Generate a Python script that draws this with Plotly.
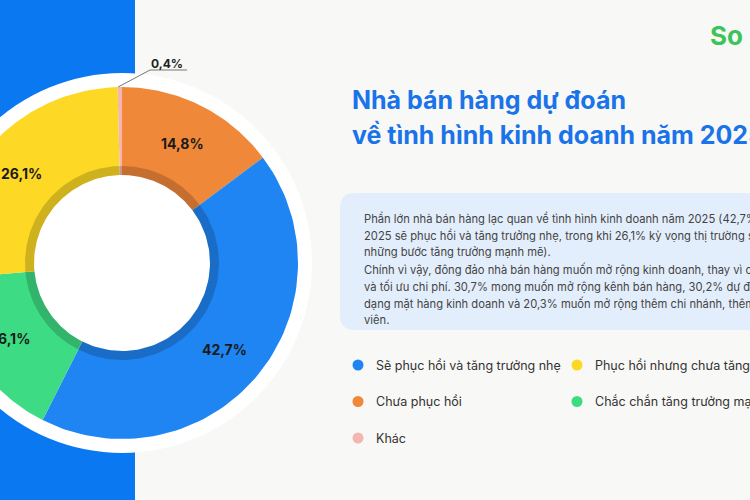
import numpy as np
import plotly.graph_objects as go

# dữ liệu (theo chiều kim đồng hồ từ đỉnh)
labels = ["Chưa phục hồi", "Sẽ phục hồi và tăng trưởng nhẹ", "Chắc chắn tăng trưởng mạnh mẽ",
          "Phục hồi nhưng chưa tăng trưởng", "Khác"]
values = [14.8, 42.7, 16.1, 26.1, 0.4]
value_text = ["14,8%", "42,7%", "16,1%", "26,1%", "0,4%"]
colors = ["#f0883a", "#1f85f2", "#3ddc84", "#fdd824", "#f5b5b0"]

legend_order = [1, 3, 0, 2, 4]

title_lines = ["Nhà bán hàng dự đoán", "về tình hình kinh doanh năm 2025"]
body_lines = [
    "Phần lớn nhà bán hàng lạc quan về tình hình kinh doanh năm 2025 (42,7% tin rằng",
    "2025 sẽ phục hồi và tăng trưởng nhẹ, trong khi 26,1% kỳ vọng thị trường sẽ có",
    "những bước tăng trưởng mạnh mẽ).",
    "Chính vì vậy, đông đảo nhà bán hàng muốn mở rộng kinh doanh, thay vì cắt giảm",
    "và tối ưu chi phí. 30,7% mong muốn mở rộng kênh bán hàng, 30,2% dự định đa",
    "dạng mặt hàng kinh doanh và 20,3% muốn mở rộng thêm chi nhánh, thêm nhân",
    "viên.",
]

cx, cy, r_out, r_in, r_band = 122, 263, 176, 88, 97
FONT = "Inter"

fig = go.Figure()

def arc(t0, t1, ra, rb):
    t = np.linspace(t0, t1, 80)
    xs = np.concatenate([cx + ra * np.sin(t), cx + rb * np.sin(t[::-1])])
    ys = np.concatenate([cy - ra * np.cos(t), cy - rb * np.cos(t[::-1])])
    return np.append(xs, xs[0]), np.append(ys, ys[0])

ends = np.cumsum(values) / sum(values) * 2 * np.pi
starts = ends - np.array(values) / sum(values) * 2 * np.pi
for i, v in enumerate(values):
    xs, ys = arc(starts[i], ends[i], r_out, r_in)
    fig.add_trace(go.Scatter(x=xs, y=ys, fill="toself", fillcolor=colors[i], mode="lines",
                             line=dict(width=0), hoverinfo="skip"))
    xs, ys = arc(starts[i], ends[i], r_band, r_in)
    fig.add_trace(go.Scatter(x=xs, y=ys, fill="toself", fillcolor="rgba(0,0,0,0.18)", mode="lines",
                             line=dict(width=0), hoverinfo="skip"))

anns = []
for i, v in enumerate(values):
    mid = (starts[i] + ends[i]) / 2
    if v < 2:
        anns.append(dict(x=185, y=63, text="<b>" + value_text[i] + "</b>", showarrow=False,
                         xanchor="right", font=dict(size=12, color="#222", family=FONT)))
        continue
    rl = 134
    anns.append(dict(x=cx + rl * np.sin(mid), y=cy - rl * np.cos(mid), text="<b>" + value_text[i] + "</b>",
                     showarrow=False, font=dict(size=14, color="#1a1a1a", family=FONT)))

fig.add_trace(go.Scatter(x=[cx + r_out * np.sin(ends[3] + 0.003), 150, 187], y=[87, 70, 70], mode="lines",
                         line=dict(color="#777", width=1), hoverinfo="skip"))

for k, i in enumerate(legend_order):
    lx = 358 if k % 2 == 0 else 577
    ly = 365 + (k // 2) * 36.5
    fig.add_trace(go.Scatter(x=[lx], y=[ly], mode="markers", marker=dict(size=11, color=colors[i]),
                             hoverinfo="skip"))
    anns.append(dict(x=lx + 16, y=ly, text=labels[i], showarrow=False, xanchor="left",
                     font=dict(size=12.5, color="#333", family=FONT)))

for j, t in enumerate(title_lines):
    anns.append(dict(x=350, y=100 + j * 35, text="<b>" + t + "</b>", showarrow=False, xanchor="left",
                     font=dict(size=25, color="#1a73e8", family=FONT)))
for j, t in enumerate(body_lines):
    anns.append(dict(x=362, y=218 + j * 17, text=t, showarrow=False, xanchor="left",
                     font=dict(size=11.2, color="#444", family=FONT)))

anns.append(dict(x=708, y=35, text="<b>So</b>", showarrow=False, xanchor="left",
                 font=dict(size=26, color="#3cc45a", family=FONT)))

box = "M 355,193 L 790,193 L 790,330 L 355,330 Q 340,330 340,315 L 340,208 Q 340,193 355,193 Z"
shapes = [
    dict(type="rect", x0=0, x1=135, y0=0, y1=500, fillcolor="#0a78f0", line_width=0, layer="below"),
    dict(type="circle", x0=cx - 190, x1=cx + 190, y0=cy - 190, y1=cy + 190,
         fillcolor="white", line_width=0, layer="below"),
    dict(type="path", path=box, fillcolor="#e3eefc", line_width=0, layer="below"),
]

fig.update_layout(
    width=750, height=500, margin=dict(l=0, r=0, t=0, b=0),
    paper_bgcolor="#f8f8f6", plot_bgcolor="#f8f8f6", showlegend=False,
    xaxis=dict(range=[0, 750], visible=False, fixedrange=True),
    yaxis=dict(range=[500, 0], visible=False, fixedrange=True),
    shapes=shapes, annotations=anns,
)

fig.write_html("out.html", config=dict(displayModeBar=False),
               post_script="document.body.style.margin='0';document.body.style.overflow='hidden';")
